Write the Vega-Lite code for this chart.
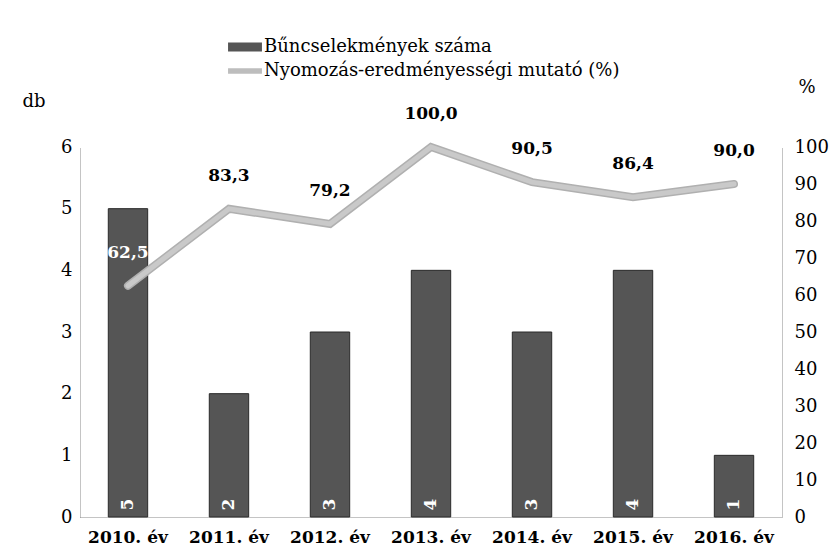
{
  "$schema": "https://vega.github.io/schema/vega-lite/v6.json",
  "width": 702,
  "height": 370,
  "autosize": {"type": "none"},
  "padding": {"left": 80, "top": 147, "right": 58, "bottom": 38},
  "background": "white",
  "config": {
    "view": {"stroke": null},
    "font": "DejaVu Serif",
    "axis": {
      "labelFont": "DejaVu Serif",
      "titleFont": "DejaVu Serif",
      "labelColor": "#000",
      "titleColor": "#000",
      "ticks": false,
      "grid": false,
      "domainColor": "#888",
      "domainDash": [1, 1],
      "domainWidth": 1
    },
    "axisLeft": {"tickCount": 6, "labelFontSize": 18, "labelPadding": 8},
    "axisRight": {"tickCount": 10, "labelFontSize": 18, "labelPadding": 12},
    "legend": {
      "labelFont": "DejaVu Serif",
      "labelFontSize": 18,
      "labelColor": "#000",
      "labelLimit": 0
    }
  },
  "data": {
    "values": [
      {"year": "2010. év", "count": 5, "rate": 62.5, "rateLabel": "62,5"},
      {"year": "2011. év", "count": 2, "rate": 83.3, "rateLabel": "83,3"},
      {"year": "2012. év", "count": 3, "rate": 79.2, "rateLabel": "79,2"},
      {"year": "2013. év", "count": 4, "rate": 100.0, "rateLabel": "100,0"},
      {"year": "2014. év", "count": 3, "rate": 90.5, "rateLabel": "90,5"},
      {"year": "2015. év", "count": 4, "rate": 86.4, "rateLabel": "86,4"},
      {"year": "2016. év", "count": 1, "rate": 90.0, "rateLabel": "90,0"}
    ]
  },
  "encoding": {
    "x": {
      "field": "year",
      "type": "nominal",
      "sort": null,
      "scale": {"paddingInner": 0.61, "paddingOuter": 0.28},
      "axis": {
        "title": null,
        "labelAngle": 0,
        "labelFontSize": 17,
        "labelFontWeight": "bold",
        "labelPadding": 12
      }
    }
  },
  "layer": [
    {
      "layer": [
        {
          "mark": {"type": "bar", "stroke": "#2a2a2a", "strokeWidth": 1},
          "encoding": {
            "y": {
              "field": "count",
              "type": "quantitative",
              "scale": {"domain": [0, 6]},
              "axis": {
                "title": "db",
                "titleAngle": 0,
                "titleFontSize": 18,
                "titleFontWeight": "normal",
                "titleAlign": "left",
                "titleBaseline": "middle",
                "titleX": -58,
                "titleY": -46
              }
            },
            "fill": {
              "datum": "Bűncselekmények száma",
              "type": "nominal",
              "scale": {"range": ["#555555"]},
              "legend": {
                "orient": "none",
                "legendX": 148,
                "legendY": -117,
                "title": null,
                "symbolType": "M-1,-0.26H1V0.26H-1Z",
                "symbolSize": 1150,
                "symbolStrokeWidth": 0,
                "labelOffset": 2
              }
            }
          }
        },
        {
          "mark": {"type": "text", "angle": 270, "color": "white", "fontWeight": "bold", "fontSize": 17, "baseline": "middle", "align": "center"},
          "encoding": {
            "y": {"datum": 0.2, "type": "quantitative"},
            "text": {"field": "count", "type": "quantitative"}
          }
        }
      ]
    },
    {
      "layer": [
        {
          "mark": {"type": "line", "strokeWidth": 8, "color": "#999999", "strokeCap": "round"},
          "encoding": {
            "y": {
              "field": "rate",
              "type": "quantitative",
              "scale": {"domain": [0, 100]},
              "axis": {
                "orient": "right",
                "title": "%",
                "titleAngle": 0,
                "titleFontSize": 18,
                "titleFontWeight": "normal",
                "titleAlign": "left",
                "titleBaseline": "middle",
                "titleX": 16,
                "titleY": -60
              }
            },
            "stroke": {
              "datum": "Nyomozás-eredményességi mutató (%)",
              "type": "nominal",
              "scale": {"range": ["#b0b0b0"]},
              "legend": {
                "orient": "none",
                "legendX": 148,
                "legendY": -93,
                "title": null,
                "symbolType": "M-1,-0.16H1V0.16H-1Z",
                "symbolSize": 1150,
                "symbolFillColor": "#bdbdbd",
                "symbolStrokeWidth": 0,
                "labelOffset": 2
              }
            }
          }
        },
        {
          "mark": {"type": "line", "strokeWidth": 5, "color": "#c9c9c9", "strokeCap": "round"},
          "encoding": {
            "y": {"field": "rate", "type": "quantitative"}
          }
        },
        {
          "mark": {"type": "text", "fontWeight": "bold", "fontSize": 17, "baseline": "middle", "align": "center", "dy": -33},
          "encoding": {
            "y": {"field": "rate", "type": "quantitative"},
            "text": {"field": "rateLabel", "type": "nominal"},
            "color": {
              "condition": {"test": "datum.year === '2010. év'", "value": "white"},
              "value": "black"
            }
          }
        }
      ]
    }
  ],
  "resolve": {"scale": {"y": "independent", "fill": "independent", "stroke": "independent"}}
}
